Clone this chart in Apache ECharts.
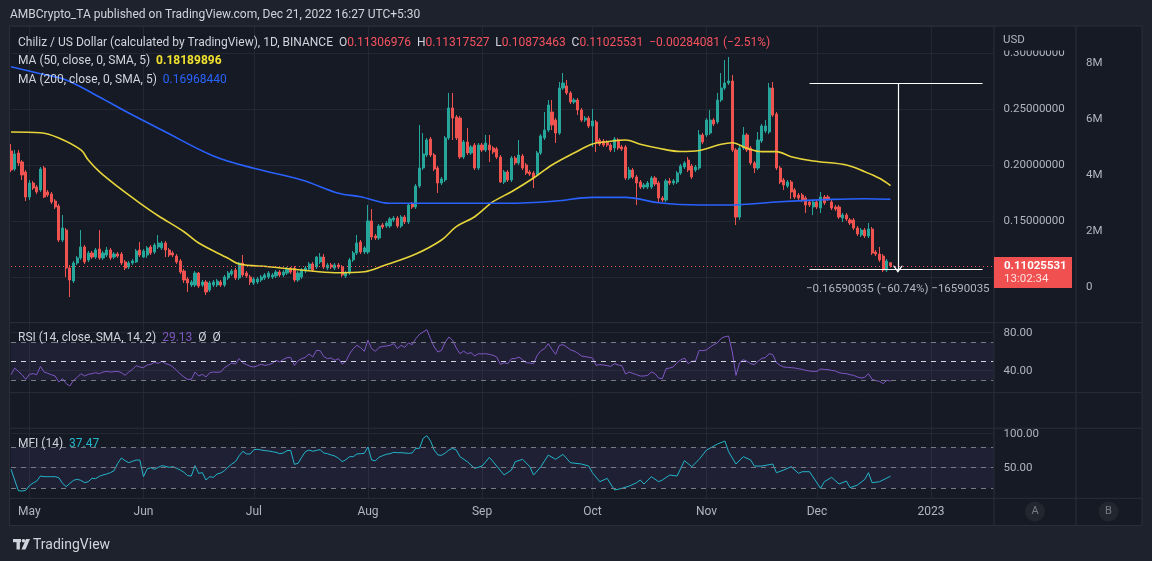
<!DOCTYPE html>
<html><head><meta charset="utf-8">
<script src="https://cdn.jsdelivr.net/npm/echarts@6.0.0/dist/echarts.min.js"></script>
<style>html,body{margin:0;padding:0;background:#1e222d;}#c{width:1152px;height:561px;}</style>
</head><body><div id="c"></div>
<script>
// ---------------- DATA ----------------
const firstDay = [2022, 3, 26];           // 2022-04-26 (first candle)
const axisDays = 268;                       // axis runs to 2023-01-18
const monthNames = ['Jan','Feb','Mar','Apr','May','Jun','Jul','Aug','Sep','Oct','Nov','Dec'];

const open = [
.2128,.1967,.2110,.2030,.1940,.1717,.1842,.1806,.1780,.1976,
.1762,.1744,.1681,.1637,.1333,.1422,.1083,.0967,.1128,.1173,
.1271,.1155,.1217,.1181,.1253,.1173,.1199,.1244,.1181,.1208,
.1208,.1137,.1092,.1128,.1137,.1244,.1181,.1199,.1271,.1226,
.1271,.1262,.1306,.1244,.1217,.1190,.1146,.1056,.0985,.0931,
.0931,.1038,.0931,.0958,.0887,.0931,.0931,.0958,.0931,.0994,
.1029,.1065,.0994,.1128,.1038,.1003,.0949,.0958,.0976,.0994,
.1003,.1003,.1012,.1047,.1021,.1038,.1083,.1083,.0976,.1003,
.1056,.1074,.1119,.1092,.1137,.1181,.1083,.1110,.1083,.1110,
.1092,.1012,.1038,.1155,.1217,.1315,.1226,.1226,.1503,.1369,
.1351,.1467,.1458,.1458,.1512,.1529,.1458,.1538,.1494,.1655,
.1628,.1815,.1976,.2092,.2235,.2092,.1976,.1842,.1869,.2244,
.2512,.2431,.2422,.2074,.2208,.2110,.2181,.1976,.2181,.2137,
.2181,.2155,.2146,.2074,.1851,.1940,.1869,.2065,.2021,.2083,
.2003,.1940,.1931,.1914,.2110,.2244,.2315,.2476,.2404,.2288,
.2690,.2708,.2646,.2565,.2583,.2494,.2404,.2422,.2351,.2387,
.2226,.2217,.2208,.2181,.2155,.2226,.2164,.2164,.1887,.1958,
.1896,.1851,.1806,.1806,.1806,.1887,.1842,.1708,.1690,.1860,
.1842,.1851,.1931,.1985,.2047,.1994,.1958,.1976,.2271,.2271,
.2288,.2404,.2387,.2583,.2690,.2735,.2753,.2137,.1538,.2155,
.2271,.2155,.2021,.1976,.2217,.2306,.2297,.2690,.2458,.1976,
.1869,.1815,.1851,.1780,.1735,.1735,.1708,.1672,.1628,.1672,
.1619,.1717,.1717,.1672,.1628,.1628,.1529,.1556,.1512,.1512,
.1440,.1378,.1422,.1369,.1431,.1226,.1208,.1190,.1065,.11306976];

const close = [
.1958,.2101,.2021,.1914,.1717,.1842,.1797,.1762,.1967,.1717,
.1735,.1672,.1628,.1333,.1440,.1083,.0976,.1128,.1173,.1271,
.1137,.1217,.1181,.1244,.1173,.1217,.1244,.1173,.1208,.1190,
.1128,.1083,.1128,.1146,.1235,.1199,.1235,.1262,.1217,.1288,
.1306,.1306,.1244,.1199,.1199,.1137,.1047,.0976,.0949,.0958,
.1038,.0922,.0958,.0869,.0949,.0958,.0967,.0931,.1003,.1038,
.1056,.0994,.1128,.1021,.1012,.0958,.0985,.0985,.1003,.1021,
.1038,.1021,.1047,.1021,.1047,.1074,.1047,.0976,.1038,.1065,
.1083,.1119,.1065,.1181,.1181,.1092,.1110,.1092,.1110,.1092,
.1021,.1038,.1155,.1217,.1306,.1226,.1262,.1503,.1360,.1351,
.1458,.1449,.1485,.1521,.1529,.1458,.1538,.1494,.1646,.1628,
.1815,.1976,.2101,.2226,.2092,.1967,.1842,.1878,.2244,.2512,
.2422,.2244,.2074,.2208,.2110,.2164,.1976,.2181,.2137,.2199,
.2137,.2119,.2074,.1851,.1940,.1869,.2065,.2021,.2092,.1976,
.1931,.1922,.1887,.2110,.2262,.2315,.2538,.2360,.2288,.2690,
.2735,.2646,.2565,.2583,.2494,.2404,.2422,.2351,.2396,.2199,
.2190,.2181,.2181,.2137,.2235,.2155,.2146,.1887,.1958,.1896,
.1842,.1806,.1824,.1842,.1887,.1833,.1708,.1690,.1860,.1842,
.1860,.1931,.1994,.2021,.1958,.1896,.1985,.2271,.2208,.2404,
.2404,.2369,.2583,.2690,.2735,.2753,.2137,.1538,.2155,.2271,
.2137,.2021,.1976,.2226,.2351,.2351,.2690,.2449,.1976,.1851,
.1824,.1851,.1762,.1717,.1708,.1690,.1646,.1646,.1672,.1628,
.1717,.1664,.1699,.1619,.1610,.1538,.1556,.1521,.1485,.1440,
.1387,.1422,.1369,.1431,.1217,.1208,.1155,.1065,.1146,.11025531];

const low = [
.1940,.1949,.1994,.1869,.1681,.1690,.1780,.1744,.1762,.1708,
.1717,.1655,.1610,.1315,.1315,.1003,.0824,.0949,.1110,.1155,
.1119,.1137,.1164,.1164,.1155,.1155,.1181,.1155,.1164,.1173,
.1110,.1065,.1074,.1110,.1128,.1181,.1173,.1173,.1199,.1208,
.1253,.1244,.1181,.1181,.1181,.1119,.1029,.0949,.0869,.0913,
.0913,.0904,.0913,.0842,.0869,.0913,.0913,.0913,.0913,.0976,
.1012,.0976,.0976,.1003,.0994,.0931,.0931,.0940,.0958,.0976,
.0985,.0985,.0994,.1003,.1003,.1021,.1029,.0958,.0958,.0985,
.1038,.1056,.1047,.1074,.1119,.1074,.1065,.1074,.1065,.1074,
.1003,.0994,.1021,.1137,.1199,.1208,.1208,.1208,.1333,.1333,
.1333,.1431,.1440,.1440,.1494,.1440,.1440,.1476,.1476,.1610,
.1610,.1797,.1958,.2074,.2074,.1949,.1753,.1824,.1851,.2226,
.2226,.2226,.2056,.2056,.2092,.2092,.1958,.1958,.2119,.2119,
.2030,.2101,.2056,.1842,.1833,.1851,.1851,.2003,.2003,.1958,
.1914,.1905,.1797,.1896,.2092,.2226,.2297,.2315,.2199,.2271,
.2672,.2628,.2547,.2547,.2449,.2387,.2387,.2333,.2164,.2119,
.2172,.2164,.2164,.2119,.2119,.2137,.2128,.1869,.1869,.1878,
.1646,.1788,.1788,.1788,.1788,.1815,.1664,.1672,.1672,.1824,
.1824,.1833,.1914,.1967,.1940,.1878,.1940,.1958,.2190,.2253,
.2271,.2351,.2369,.2565,.2672,.2717,.2119,.1467,.1512,.2137,
.2119,.2003,.1931,.1958,.2199,.2288,.2279,.2431,.1958,.1833,
.1780,.1797,.1699,.1699,.1690,.1672,.1574,.1628,.1556,.1610,
.1574,.1646,.1681,.1601,.1592,.1521,.1494,.1503,.1467,.1422,
.1369,.1360,.1351,.1351,.1199,.1190,.1137,.1047,.1047,.10873463];

const high = [
.2190,.2137,.2137,.2047,.1958,.1869,.1860,.1824,.1985,.1994,
.1780,.1762,.1699,.1655,.1556,.1440,.1110,.1146,.1190,.1422,
.1288,.1235,.1235,.1262,.1422,.1235,.1271,.1262,.1226,.1226,
.1226,.1155,.1146,.1164,.1253,.1315,.1253,.1279,.1288,.1306,
.1378,.1324,.1324,.1262,.1235,.1208,.1164,.1074,.1003,.0976,
.1056,.1047,.0976,.0976,.0967,.0976,.0985,.0976,.1021,.1056,
.1074,.1083,.1137,.1199,.1056,.1021,.1003,.1003,.1021,.1038,
.1056,.1038,.1065,.1065,.1065,.1092,.1092,.1101,.1056,.1083,
.1101,.1137,.1137,.1190,.1217,.1208,.1128,.1128,.1128,.1128,
.1110,.1056,.1173,.1235,.1378,.1333,.1279,.1646,.1610,.1387,
.1476,.1485,.1503,.1538,.1547,.1547,.1556,.1556,.1664,.1672,
.1833,.2360,.2288,.2244,.2253,.2110,.1994,.1896,.2262,.2646,
.2646,.2449,.2440,.2226,.2333,.2181,.2199,.2199,.2199,.2271,
.2271,.2172,.2164,.2092,.1958,.1958,.2083,.2083,.2226,.2101,
.2021,.1958,.1949,.2128,.2279,.2476,.2583,.2583,.2422,.2744,
.2824,.2762,.2663,.2601,.2601,.2512,.2440,.2440,.2503,.2404,
.2244,.2235,.2226,.2199,.2253,.2244,.2181,.2181,.1985,.1976,
.1914,.1869,.1842,.1860,.1905,.1905,.1860,.1726,.1878,.1887,
.1878,.1949,.2012,.2038,.2074,.2012,.2003,.2315,.2288,.2422,
.2494,.2422,.2646,.2824,.2940,.2967,.2806,.2155,.2172,.2342,
.2288,.2172,.2038,.2297,.2369,.2404,.2735,.2744,.2476,.1994,
.1887,.1869,.1869,.1797,.1753,.1753,.1726,.1690,.1690,.1690,
.1762,.1735,.1735,.1690,.1646,.1646,.1574,.1574,.1529,.1529,
.1458,.1440,.1440,.1485,.1449,.1244,.1271,.1208,.1164,.11317527];

// moving averages, read as [day, value]
const ma50 = [[0,.2297],[8,.2291],[13,.2244],[19,.2137],[21,.2047],[24,.1943],[29,.1809],[35,.1663],[40,.1550],
[47,.1407],[51,.1306],[59,.1170],[62,.1119],[70,.1095],[79,.1065],[88,.1041],[96,.1050],[101,.1101],[110,.1208],
[117,.1333],[121,.1452],[126,.1541],[131,.1675],[136,.1764],[142,.1887],[147,.2003],[153,.2110],[158,.2190],
[162,.2211],[167,.2226],[171,.2188],[176,.2152],[182,.2123],[187,.2132],[193,.2188],[196,.2202],[200,.2152],
[204,.2122],[208,.2122],[212,.2077],[218,.2038],[227,.2003],[232,.1943],[236,.1884],[239,.18189896]];
const ma200 = [[0,.2880],[8,.2817],[15,.2762],[24,.2610],[32,.2467],[41,.2315],[55,.2083],[66,.1973],[79,.1869],
[89,.1750],[95,.1720],[103,.1661],[117,.1661],[135,.1661],[148,.1681],[158,.1714],[167,.1714],[176,.1666],
[187,.1646],[195,.1646],[209,.1675],[223,.1696],[232,.1702],[239,.16968440]];

const rsi = [
35.8,42.8,39.3,35.8,30.9,36.2,36.9,35.8,44.6,38.6,
37.2,35.8,34.4,28.1,31.6,26.4,23.9,29.9,33.0,36.9,
34.4,36.2,36.9,37.9,36.9,38.6,39.3,38.6,39.0,39.3,
37.9,35.1,38.6,41.4,45.3,43.9,43.2,46.0,46.7,48.8,
47.7,49.9,47.4,46.4,43.9,40.4,36.5,33.4,30.9,30.9,
38.6,34.4,36.2,33.4,37.9,38.6,38.3,38.6,43.2,45.6,
48.1,47.0,52.7,48.1,46.4,44.6,43.9,45.3,46.7,45.6,
46.4,47.7,50.9,49.2,51.9,53.7,54.1,45.6,50.5,52.7,
54.1,57.6,54.4,61.4,61.1,54.8,52.7,53.4,50.9,52.7,
47.0,49.9,57.6,63.2,66.7,64.3,60.4,72.0,63.2,60.4,
64.6,65.6,66.0,66.7,68.5,63.2,66.7,64.6,69.2,67.4,
73.7,78.3,80.7,83.2,73.7,65.0,59.7,61.4,70.2,75.5,
72.0,63.9,57.9,60.7,57.9,59.0,55.5,57.9,57.6,57.9,
57.2,56.2,54.4,46.7,48.5,47.4,52.7,52.7,54.4,51.6,
48.5,48.1,47.4,56.2,61.1,63.2,68.5,62.5,57.2,66.7,
67.4,65.0,62.1,60.7,58.6,55.5,54.8,54.1,53.4,45.6,
46.4,46.0,45.3,44.6,47.4,46.0,45.3,36.5,38.6,37.2,
35.8,34.4,34.4,35.1,38.6,36.9,32.3,31.6,42.1,42.8,
44.2,48.5,51.3,53.4,47.4,49.9,50.2,61.4,61.1,61.8,
65.0,67.4,69.5,74.1,75.8,76.5,59.7,35.1,48.5,51.6,
49.9,47.4,46.4,49.9,53.0,53.7,57.9,56.9,48.5,45.6,
43.9,43.5,43.2,42.8,42.1,41.4,40.4,39.7,39.3,39.3,
41.8,41.4,41.1,40.4,39.7,37.9,37.2,36.9,35.8,35.1,
33.4,32.3,33.0,36.9,30.9,29.5,28.8,26.4,29.9,29.13];

const mfiDaily = [
47.6,31.9,16.2,15.7,16.7,23.6,27.5,30.4,37.8,36.8,
36.8,36.8,36.8,35.3,27.0,22.1,27.0,31.4,32.9,31.4,
28.0,29.5,34.4,33.9,37.3,39.3,40.7,42.7,45.6,56.4,
64.3,60.3,57.4,59.4,61.3,61.3,36.8,48.1,50.1,47.6,
50.5,53.0,52.0,50.5,51.5,49.1,46.6,43.2,38.3,37.8,
53.0,41.7,42.7,31.9,36.8,35.8,40.7,42.2,45.6,51.0,
55.4,58.9,67.7,74.1,70.2,70.2,76.5,77.0,76.0,75.1,
74.6,73.6,72.6,70.6,71.6,75.1,75.5,55.0,56.4,65.3,
73.6,76.0,74.1,75.5,76.5,71.6,70.6,68.7,67.2,63.8,
58.9,61.8,66.2,66.2,70.2,70.6,71.1,80.4,61.3,60.3,
65.3,67.7,69.7,70.6,72.6,72.1,72.1,71.6,71.1,71.6,
78.5,78.5,93.2,97.1,89.3,76.0,68.7,68.2,71.6,76.0,
78.5,76.0,66.2];
const mfiLater = [[124,58.8],[126,49.0],[128,52.4],[130,65.2],[131,58.8],[134,39.2],[136,46.6],[137,58.8],
[139,62.3],[141,51.5],[142,39.2],[144,51.5],[146,68.6],[148,62.3],[150,69.6],[152,57.4],[155,55.4],[157,52.4],
[158,42.6],[160,29.4],[162,34.3],[164,17.2],[166,19.6],[168,23.0],[170,27.9],[171,31.9],[172,26.0],[174,36.8],
[176,29.4],[177,31.9],[179,39.2],[181,37.7],[183,60.3],[185,51.5],[187,62.3],[189,76.0],[192,84.8],[194,89.2],
[195,73.5],[197,55.4],[199,66.2],[201,61.3],[202,52.4],[204,52.4],[207,55.4],[208,42.6],[210,46.6],[212,51.5],
[214,41.7],[215,44.1],[217,44.1],[220,19.6],[221,29.4],[223,35.8],[225,26.0],[227,30.4],[228,20.6],[230,24.5],
[232,32.8],[233,42.6],[234,27.9],[236,29.4],[239,37.47]];

const rsiBands = [70, 50, 30];
const mfiBands = [80, 50, 20];
// price-range measurement annotation: [day, price]
const measureFrom = 0.27313;
const measureTo = 0.10723;
const measureDays = [217, 264, 241];   // start, end, arrow
const lastClose = 0.11025531;

// ---------------- STYLE ----------------
const OUTER = '#1e222d', PANE = '#161a25', BORDER = '#2a2e39', GRIDC = '#232733';
const TXT = '#b2b5be', TXT2 = '#d1d4dc';
const UP = '#26a69a', DOWN = '#ef5350';
const C50 = '#e6d43a', C200 = '#2962ff', CRSI = '#7e57c2', CMFI = '#22b5c9';
const FONT = 'Roboto, "Liberation Sans", sans-serif';

const categories = [];
for (let i = 0; i < axisDays; i++) {
  const d = new Date(Date.UTC(firstDay[0], firstDay[1], firstDay[2] + i));
  categories.push(d.toISOString().slice(0, 10));
}
const monthStart = (idx, val) => val.slice(8) === '01';
const candleData = open.map((o, i) => [o, close[i], low[i], high[i]]);
const mfiData = mfiDaily.map((v, i) => [i, v]).concat(mfiLater);

const L = 11, W = 982.56, R = 1152 - L - W;
function g(top, height) { return {left: L, right: R, top: top, height: height, containLabel: false, outerBoundsMode: 'none'}; }
function xa(grid, extra) {
  return Object.assign({type: 'category', gridIndex: grid, data: categories, boundaryGap: false, show: false}, extra || {});
}
const hiddenBits = {axisLine: {show: false}, axisTick: {show: false}};

const chart = echarts.init(document.getElementById('c'), null, {renderer: 'canvas'});
chart.setOption({
  animation: false,
  backgroundColor: PANE,
  textStyle: {fontFamily: FONT},
  grid: [g(26, 472.3), g(26, 296.7), g(322.7, 70), g(428.3, 70)],
  xAxis: [
    xa(0, {show: true, axisLine: {show: false}, axisTick: {show: false},
      splitLine: {show: true, interval: monthStart, lineStyle: {color: GRIDC, width: 1}},
      axisLabel: {interval: monthStart, margin: 8, color: TXT, fontSize: 12, fontFamily: FONT,
        formatter: v => { const m = +v.slice(5, 7); return m === 1 ? v.slice(0, 4) : monthNames[m - 1]; }}}),
    xa(1), xa(2), xa(3)
  ],
  yAxis: [
    {type: 'value', gridIndex: 0, min: 0, max: 1, show: false},
    {type: 'value', gridIndex: 1, position: 'right', min: 0.3476 - 322.7 / 1120, max: 0.3476 - 26 / 1120,
      ...hiddenBits, splitLine: {show: true, lineStyle: {color: GRIDC}},
      axisLabel: {showMinLabel: false, showMaxLabel: false, margin: 10, color: TXT, fontSize: 11.5, fontFamily: FONT,
        formatter: v => v.toFixed(8)}},
    {type: 'value', gridIndex: 1, position: 'right', offset: 82.4, min: -(322.7 - 287.3) * 2e6 / 56, max: (287.3 - 26) * 2e6 / 56,
      ...hiddenBits, splitLine: {show: false},
      axisLabel: {showMinLabel: false, showMaxLabel: false, margin: 10, color: TXT, fontSize: 11.5, fontFamily: FONT,
        formatter: v => v === 0 ? '0' : (v / 1e6) + 'M'}},
    {type: 'value', gridIndex: 2, position: 'right', min: 80 - (392.7 - 332.7) / 0.95, max: 80 + (332.7 - 322.7) / 0.95, splitNumber: 4,
      ...hiddenBits, splitLine: {show: true, lineStyle: {color: ['transparent', 'transparent', GRIDC, 'transparent', GRIDC, 'transparent']}},
      axisLabel: {showMinLabel: false, showMaxLabel: false, margin: 10, color: TXT, fontSize: 11.5, fontFamily: FONT,
        formatter: v => (Math.abs(v - 40) < 1e-6 || Math.abs(v - 80) < 1e-6) ? v.toFixed(2) : ''}},
    {type: 'value', gridIndex: 3, position: 'right', min: 100 - (498.3 - 433.7) / 0.68, max: 100 + (433.7 - 428.3) / 0.68, splitNumber: 2,
      ...hiddenBits, splitLine: {show: true, lineStyle: {color: ['transparent', GRIDC, GRIDC, 'transparent']}},
      axisLabel: {showMinLabel: false, showMaxLabel: false, margin: 10, color: TXT, fontSize: 11.5, fontFamily: FONT,
        formatter: v => v.toFixed(2)}}
  ],
  series: [
    {type: 'candlestick', name: 'CHZUSD', xAxisIndex: 1, yAxisIndex: 1, data: candleData, barWidth: 2.6,
      itemStyle: {color: UP, color0: DOWN, borderColor: UP, borderColor0: DOWN, borderWidth: 1},
      markLine: {silent: true, symbol: ['none', 'none'], label: {show: false}, animation: false,
        data: [
          {yAxis: lastClose, lineStyle: {color: DOWN, type: [1, 3], width: 1}},
          [{coord: [measureDays[0], measureFrom], lineStyle: {color: '#ffffff', type: 'solid', width: 1.2}}, {coord: [measureDays[1], measureFrom]}],
          [{coord: [measureDays[0], measureTo], lineStyle: {color: '#ffffff', type: 'solid', width: 1.2}}, {coord: [measureDays[1], measureTo]}],
          [{coord: [measureDays[2], measureFrom], lineStyle: {color: '#ffffff', type: 'solid', width: 1.2}},
           {coord: [measureDays[2], measureTo], symbol: 'path://M0,8 L5,0 L10,8 L8.6,8 L5,2.4 L1.4,8 Z', symbolSize: [10, 7]}]
        ]}},
    {type: 'line', name: 'MA50', xAxisIndex: 1, yAxisIndex: 1, data: ma50, symbol: 'none', smooth: 0.35,
      lineStyle: {color: C50, width: 1.6}, z: 3},
    {type: 'line', name: 'MA200', xAxisIndex: 1, yAxisIndex: 1, data: ma200, symbol: 'none', smooth: 0.35,
      lineStyle: {color: C200, width: 1.6}, z: 3},
    {type: 'line', name: 'RSI', xAxisIndex: 2, yAxisIndex: 3, data: rsi, symbol: 'none',
      lineStyle: {color: CRSI, width: 1},
      markArea: {silent: true, itemStyle: {color: 'rgba(126,87,194,0.10)'}, data: [[{yAxis: rsiBands[0]}, {yAxis: rsiBands[2]}]]},
      markLine: {silent: true, symbol: ['none', 'none'], label: {show: false},
        data: rsiBands.map((b, i) => ({yAxis: b, lineStyle: {color: i === 1 ? '#d1d4dc' : '#787b86', type: [5, 5], width: 1}}))}},
    {type: 'line', name: 'MFI', xAxisIndex: 3, yAxisIndex: 4, data: mfiData, symbol: 'none',
      lineStyle: {color: CMFI, width: 1},
      markArea: {silent: true, itemStyle: {color: 'rgba(126,87,194,0.10)'}, data: [[{yAxis: mfiBands[0]}, {yAxis: mfiBands[2]}]]},
      markLine: {silent: true, symbol: ['none', 'none'], label: {show: false},
        data: mfiBands.map(b => ({yAxis: b, lineStyle: {color: '#787b86', type: [5, 5], width: 1}}))}}
  ],
  graphic: [
    // outer frame
    {type: 'rect', silent: true, z: 100, shape: {x: 0, y: 0, width: 1152, height: 26}, style: {fill: OUTER}},
    {type: 'rect', silent: true, z: 100, shape: {x: 0, y: 525.5, width: 1152, height: 36}, style: {fill: OUTER}},
    {type: 'rect', silent: true, z: 100, shape: {x: 0, y: 0, width: 9.5, height: 561}, style: {fill: OUTER}},
    {type: 'rect', silent: true, z: 100, shape: {x: 1142, y: 0, width: 10, height: 561}, style: {fill: OUTER}},
    // usd cover
    {type: 'rect', silent: true, z: 100, shape: {x: 995, y: 27, width: 80, height: 23.5}, style: {fill: PANE}},
    // separators
    ...[[9.5, 26, 1142, 26], [9.5, 322.7, 1142, 322.7], [9.5, 392.7, 1142, 392.7], [9.5, 428.3, 1142, 428.3],
        [9.5, 498.3, 1142, 498.3], [9.5, 525.5, 1142, 525.5], [9.5, 26, 9.5, 525.5], [994, 26, 994, 525.5],
        [1076, 26, 1076, 525.5], [1142, 26, 1142, 525.5]].map(s => ({type: 'line', silent: true, z: 101,
        shape: {x1: s[0], y1: s[1], x2: s[2], y2: s[3]}, style: {stroke: BORDER, lineWidth: 1}})),
    // header
    {type: 'text', z: 110, x: 10, y: 15, style: {text: 'AMBCrypto_TA published on TradingView.com, Dec 21, 2022 16:27 UTC+5:30',
      fill: TXT2, font: '12px ' + FONT, verticalAlign: 'middle'}},
    // legends
    {type: 'text', z: 110, x: 18, y: 42.5, style: {
      text: '{a|Chiliz / US Dollar (calculated by TradingView), 1D, BINANCE}  {a|O}{r|0.11306976}  {a|H}{r|0.11317527}  {a|L}{r|0.10873463}  {a|C}{r|0.11025531}  {r|−0.00284081 (−2.51%)}',
      verticalAlign: 'middle', font: '12px ' + FONT,
      rich: {a: {fill: TXT2, font: '12px ' + FONT}, r: {fill: '#f7525f', font: '12px ' + FONT}}}},
    {type: 'text', z: 110, x: 18, y: 61, style: {text: '{a|MA (50, close, 0, SMA, 5)}  {v|0.18189896}', verticalAlign: 'middle',
      font: '12px ' + FONT, rich: {a: {fill: TXT2, font: '12px ' + FONT}, v: {fill: '#f0e02f', font: 'bold 12px ' + FONT}}}},
    {type: 'text', z: 110, x: 18, y: 80, style: {text: '{a|MA (200, close, 0, SMA, 5)}  {v|0.16968440}', verticalAlign: 'middle',
      font: '12px ' + FONT, rich: {a: {fill: TXT2, font: '12px ' + FONT}, v: {fill: '#2962ff', font: '12px ' + FONT}}}},
    {type: 'text', z: 110, x: 18, y: 338, style: {text: '{a|RSI (14, close, SMA, 14, 2)}  {v|29.13}  {a|Ø}  {a|Ø}', verticalAlign: 'middle',
      font: '12px ' + FONT, rich: {a: {fill: TXT2, font: '12px ' + FONT}, v: {fill: CRSI, font: '12px ' + FONT}}}},
    {type: 'text', z: 110, x: 18, y: 443.5, style: {text: '{a|MFI (14)}  {v|37.47}', verticalAlign: 'middle',
      font: '12px ' + FONT, rich: {a: {fill: TXT2, font: '12px ' + FONT}, v: {fill: CMFI, font: '12px ' + FONT}}}},
    // measurement text
    {type: 'text', z: 110, x: 806, y: 289.5, style: {text: '−0.16590035 (−60.74%) −16590035', fill: TXT,
      font: '11.5px ' + FONT, verticalAlign: 'middle'}},
    // axis extras
    {type: 'text', z: 110, x: 1003, y: 40, style: {text: 'USD', fill: TXT, font: '11.5px ' + FONT, verticalAlign: 'middle'}},
    {type: 'rect', z: 110, shape: {x: 994, y: 257, width: 78, height: 31}, style: {fill: '#f0504f'}},
    {type: 'text', z: 111, x: 1004, y: 265.7, style: {text: '0.11025531', fill: '#ffffff', font: 'bold 11.5px ' + FONT, verticalAlign: 'middle'}},
    {type: 'text', z: 111, x: 1004, y: 279.5, style: {text: '13:02:34', fill: '#fde0df', font: '11.5px ' + FONT, verticalAlign: 'middle'}},
    {type: 'circle', z: 110, shape: {cx: 1035, cy: 511.5, r: 10}, style: {fill: '#22262f'}},
    {type: 'circle', z: 110, shape: {cx: 1108.5, cy: 511.5, r: 10}, style: {fill: '#22262f'}},
    {type: 'text', z: 111, x: 1035, y: 511.5, style: {text: 'A', fill: '#787b86', font: '11px ' + FONT, align: 'center', verticalAlign: 'middle'}},
    {type: 'text', z: 111, x: 1108.5, y: 511.5, style: {text: 'B', fill: '#787b86', font: '11px ' + FONT, align: 'center', verticalAlign: 'middle'}},
    // TradingView logo
    {type: 'rect', z: 110, shape: {x: 13, y: 539, width: 8, height: 3.2}, style: {fill: TXT2}},
    {type: 'rect', z: 110, shape: {x: 16.5, y: 539, width: 3.4, height: 10.5}, style: {fill: TXT2}},
    {type: 'circle', z: 110, shape: {cx: 23.5, cy: 540.8, r: 1.8}, style: {fill: TXT2}},
    {type: 'polygon', z: 110, shape: {points: [[26, 539], [30, 539], [25.5, 549.5], [21.5, 549.5]]}, style: {fill: TXT2}},
    {type: 'text', z: 110, x: 33, y: 545, style: {text: 'TradingView', fill: TXT2, font: '14px ' + FONT, verticalAlign: 'middle'}}
  ]
});
</script></body></html>
